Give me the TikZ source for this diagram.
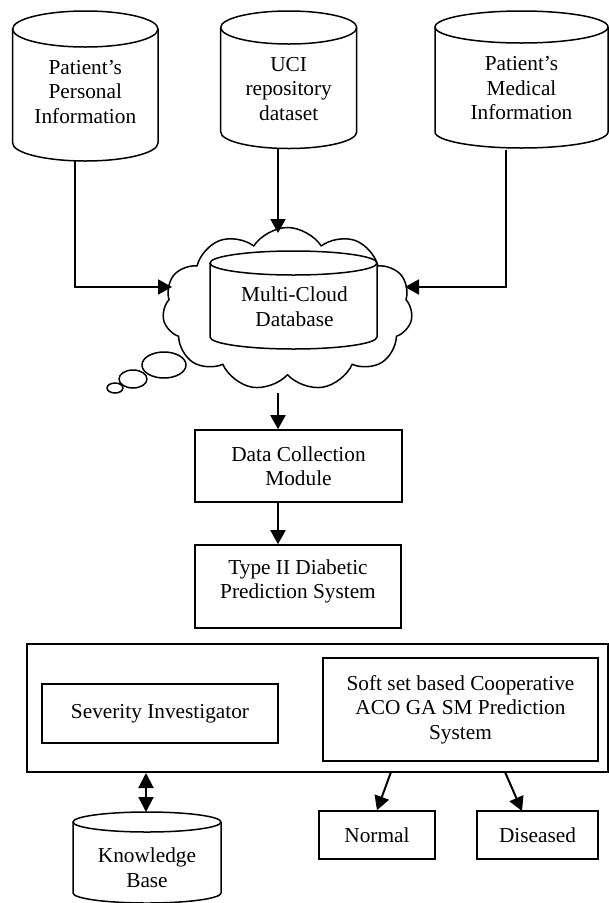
\documentclass[tikz,border=0pt]{standalone}
\usepackage{fontspec}
\setmainfont{Liberation Serif}
\usetikzlibrary{arrows.meta,shapes.symbols}
\tikzset{
  shapeline/.style={line width=1.5pt, line join=round},
  txt/.style={font=\fontsize{21.3}{24.5}\selectfont, align=center, inner sep=0pt},
  box/.style={draw, line width=1.6pt, font=\fontsize{21.3}{24.5}\selectfont, align=center, inner sep=0pt},
  arr/.style={line width=2pt, -{Triangle[length=14pt,width=15pt]}},
  darr/.style={line width=2pt, {Triangle[length=15pt,width=15pt]}-{Triangle[length=15pt,width=15pt]}}
}
\newcommand\drawcyl[5]{%
  \fill[white] (#1-#4,#2) -- (#1-#4,#3) arc[start angle=180,end angle=360,x radius=#4pt,y radius=#5pt] -- (#1+#4,#2) arc[start angle=0,end angle=180,x radius=#4pt,y radius=#5pt] -- cycle;
  \draw[shapeline] (#1-#4,#2) -- (#1-#4,#3) arc[start angle=180,end angle=360,x radius=#4pt,y radius=#5pt] -- (#1+#4,#2);
  \draw[shapeline] (#1,#2) ellipse[x radius=#4pt,y radius=#5pt];
}
\begin{document}
\begin{tikzpicture}[x=1pt,y=-1pt]
\useasboundingbox (0,0) rectangle (609,903);
% top cylinders
\drawcyl{85.3}{29}{143}{72.7}{18}
\drawcyl{288.7}{27.5}{132}{68}{16.5}
\drawcyl{521.5}{27}{132}{86.5}{16}
\node[txt] (c1) at (85.3,92) {Patient’s\\Personal\\Information};
\node[txt] (c2) at (288.7,89) {UCI\\repository\\dataset};
\node[txt] (c3) at (521.5,88.5) {Patient’s\\Medical\\Information};
% thought bubbles
\draw[shapeline, fill=white] (115,388) ellipse[x radius=8pt,y radius=5pt];
\draw[shapeline, fill=white] (133,379) ellipse[x radius=14pt,y radius=9pt];
\draw[shapeline, fill=white] (164,365) ellipse[x radius=22pt,y radius=13pt];
% cloud
\node[cloud, draw, fill=white, shapeline, cloud puffs=11, cloud puff arc=115, aspect=1.55,
      minimum width=250pt, minimum height=163pt, inner sep=0pt] (cloud) at (287.5,309) {};
\drawcyl{293.5}{263}{337}{83.5}{12}
\node[txt] (mc) at (294.5,306.5) {Multi-Cloud\\Database};
% boxes
\node[box, minimum width=207pt, minimum height=72pt] (dc) at (298.5,466) {Data Collection\\Module};
\node[box, minimum width=206pt, minimum height=83pt] (t2) at (298,586.5) {};
\node[txt] (t2text) at (298,581.5) {Type II Diabetic\\Prediction System};
\node[box, line width=2pt, minimum width=581pt, minimum height=128pt] (big) at (317.5,708) {};
\node[box, minimum width=236pt, minimum height=59pt] (sev) at (160,713.5) {Severity Investigator};
\node[box, minimum width=275pt, minimum height=103pt] (soft) at (460.5,709.5) {Soft set based Cooperative\\ACO GA SM Prediction\\System};
\node[box, minimum width=116pt, minimum height=48pt] (normal) at (377,835) {Normal};
\node[box, minimum width=121pt, minimum height=48pt] (dis) at (537.5,835) {Diseased};
% knowledge base
\drawcyl{147}{822}{893}{74}{10}
\node[txt] (kb) at (147,867.5) {Knowledge\\Base};
% connector coordinates
\coordinate (c1out) at (75,160);
\coordinate (c2out) at (278,148);
\coordinate (c3out) at (506,150);
\coordinate (cloudL) at (172,287);
\coordinate (cloudT) at (278,233);
\coordinate (cloudR) at (405,287);
\coordinate (cloudB) at (278,393);
\coordinate (kbtop) at (146,812);
\coordinate (nout) at (391,772);
\coordinate (dout) at (505,772);
\coordinate (dtip) at (522,811);
% connectors
\draw[arr] (c1out) |- (cloudL);
\draw[arr] (c2out) -- (cloudT);
\draw[arr] (c3out) |- (cloudR);
\draw[arr] (cloudB) -- (cloudB |- dc.north);
\draw[arr] (cloudB |- dc.south) -- (cloudB |- t2.north);
\draw[darr] (kbtop |- big.south) -- (kbtop);
\draw[arr] (nout) -- (normal.north);
\draw[arr] (dout) -- (dtip);
\end{tikzpicture}
\end{document}
